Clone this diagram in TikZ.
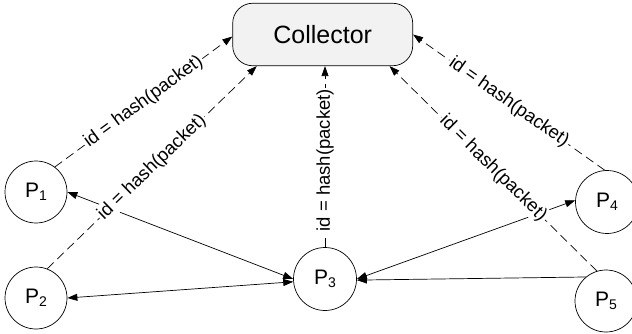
\documentclass[tikz,border=0pt]{standalone}
\usepackage{fontspec}
\setmainfont{Liberation Sans}
\usetikzlibrary{arrows.meta,calc}
\definecolor{colfill}{RGB}{242,242,242}
\begin{document}
\begin{tikzpicture}[x=1pt,y=-1pt,
  proc/.style={circle, draw, line width=0.7pt, minimum size=62pt, inner sep=0pt, fill=white,
    font=\fontsize{21}{24}\selectfont},
  collbox/.style={draw, line width=0.7pt, rounded corners=20pt, fill=colfill,
    minimum width=180pt, minimum height=62.5pt, font=\fontsize{25}{28}\selectfont},
  tip/.style={line width=0.7pt},
  dsh/.style={line width=0.7pt, dash pattern=on 9pt off 5pt, -{Triangle[length=10pt,width=7pt]}},
  solid2/.style={line width=0.7pt, {Triangle[length=10pt,width=7pt]}-{Triangle[length=10pt,width=7pt]}},
  solid1/.style={line width=0.7pt, -{Triangle[length=10pt,width=7pt]}},
  lbl/.style={sloped, midway, fill=white, inner sep=1.5pt, font=\fontsize{18.5}{20}\selectfont}]
\useasboundingbox (0,0) rectangle (632,334);
\newcommand{\psub}[1]{P\raisebox{-3pt}{\fontsize{14}{15}\selectfont #1}}
\node[collbox] (col) at (322.7,34.5) {Collector};
\node[proc] (p1) at (36,192) {\psub{1}};
\node[proc] (p2) at (36,298) {\psub{2}};
\node[proc, minimum size=63pt] (p3) at (325,279) {\psub{3}};
\node[proc, minimum size=63pt] (p4) at (607,202) {\psub{4}};
\node[proc] (p5) at (606,301) {\psub{5}};
% solid connectors
\draw[solid2] (p1.east) -- (p3.180);
\draw[solid2] (p2.east) -- (p3.185);
\draw[solid2] (p3.east) -- (p4.177);
\draw[solid1] (p5.130) -- (p3.-2);
% dashed connectors to collector
\draw[dsh] (p1.53) -- node[lbl]{id = hash(packet)} ($(col.west)+(0,2)$);
\draw[dsh] (p2.69) -- node[lbl]{id = hash(packet)} ($(col.south west)!0.135!(col.south east)$);
\draw[dsh] (p3.north) -- node[lbl, pos=0.48]{id = hash(packet)} (p3.north |- col.south);
\draw[dsh] (p4.94) -- node[lbl]{id = hash(packet)} (col.east);
\draw[dsh] (p5.107) -- node[lbl]{id = hash(packet)} ($(col.south west)!0.87!(col.south east)$);
\end{tikzpicture}
\end{document}
